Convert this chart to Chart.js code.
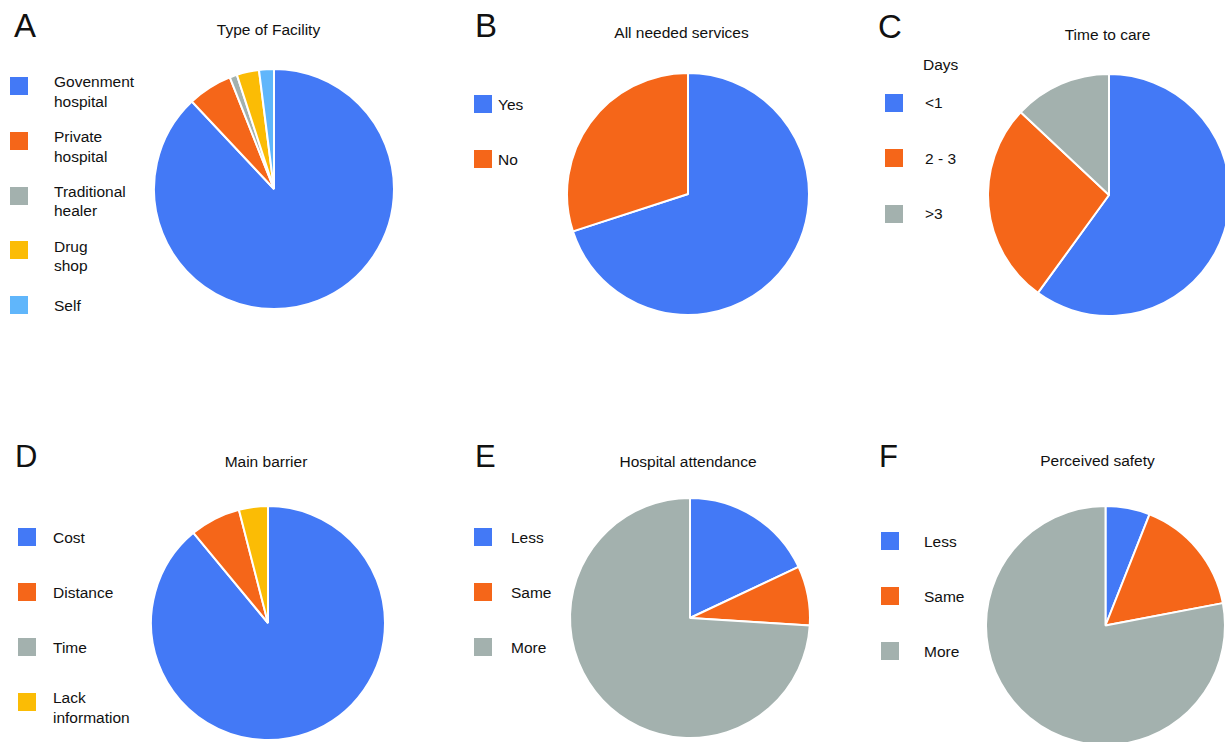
<!DOCTYPE html>
<html lang="en">
  <head>
    <meta charset="UTF-8" />
    <title>Care seeking pies</title>
    <script src="https://cdn.jsdelivr.net/npm/chart.js"></script>
    <style>
      html, body { margin: 0; padding: 0; background: #fff; }
      body {
        width: 1225px; height: 742px; overflow: hidden; position: relative;
        font-family: "Liberation Sans", Arial, Helvetica, sans-serif; color: #111;
      }
      .txt { position: absolute; white-space: nowrap; line-height: 1; }
      .box { position: absolute; width: 18px; height: 18px; }
      .pie { position: absolute; }
    </style>
  </head>
  <body>
    <script>
      // ---- data ----
      const facilityLabels = ['Govenment\nhospital', 'Private\nhospital', 'Traditional\nhealer', 'Drug\nshop', 'Self'];
      const facilityValues = [88, 6, 1, 3, 2];

      const servicesLabels = ['Yes', 'No'];
      const servicesValues = [70, 30];

      const timeLabels = ['<1', '2 - 3', '>3'];
      const timeValues = [60, 27, 13];

      const barrierLabels = ['Cost', 'Distance', 'Time', 'Lack\ninformation'];
      const barrierValues = [89, 7, 0, 4];

      const attendanceLabels = ['Less', 'Same', 'More'];
      const attendanceValues = [18, 8, 74];

      const safetyLabels = ['Less', 'Same', 'More'];
      const safetyValues = [6, 16, 78];

      const blue = '#4379f6', orange = '#f56619', grey = '#a3b1ae', yellow = '#fbbc05', sky = '#60b6fb';

      // ---- panel layout ----
      const panels = [
        { letter: 'A', lx: 14, lb: 37.3, title: 'Type of Facility', tx: 268.5, tb: 35,
          labels: facilityLabels, values: facilityValues, colors: [blue, orange, grey, yellow, sky],
          cx: 274, cy: 188.5, r: 120, sqX: 10, textX: 54, top: 77, step: 54.8 },
        { letter: 'B', lx: 475, lb: 37.3, title: 'All needed services', tx: 681.5, tb: 37.7,
          labels: servicesLabels, values: servicesValues, colors: [blue, orange],
          cx: 688, cy: 194, r: 121, sqX: 474, textX: 498, top: 95, step: 55 },
        { letter: 'C', lx: 878, lb: 37.5, title: 'Time to care', tx: 1107.5, tb: 40,
          labels: timeLabels, values: timeValues, colors: [blue, orange, grey],
          cx: 1109, cy: 195, r: 121, sqX: 885, textX: 925, top: 93.5, step: 55.5,
          extra: { text: 'Days', x: 923, b: 70 } },
        { letter: 'D', lx: 15, lb: 467, title: 'Main barrier', tx: 266, tb: 466.7,
          labels: barrierLabels, values: barrierValues, colors: [blue, orange, grey, yellow],
          cx: 268, cy: 623, r: 117, sqX: 18, textX: 53, top: 528, step: 55 },
        { letter: 'E', lx: 475, lb: 467, title: 'Hospital attendance', tx: 688, tb: 466.7,
          labels: attendanceLabels, values: attendanceValues, colors: [blue, orange, grey],
          cx: 690, cy: 618, r: 120, sqX: 474, textX: 511, top: 528.3, step: 55 },
        { letter: 'F', lx: 879, lb: 467, title: 'Perceived safety', tx: 1097.5, tb: 466,
          labels: safetyLabels, values: safetyValues, colors: [blue, orange, grey],
          cx: 1105, cy: 625.5, r: 119.5, sqX: 881, textX: 924, top: 532, step: 55 }
      ];

      function text(str, x, baseline, size, center) {
        const d = document.createElement('div');
        d.className = 'txt';
        d.textContent = str;
        d.style.fontSize = size + 'px';
        d.style.top = (baseline - 0.8465 * size) + 'px';
        d.style.left = x + 'px';
        if (center) d.style.transform = 'translateX(-50%)';
        document.body.appendChild(d);
      }

      panels.forEach(p => {
        text(p.letter, p.lx, p.lb, p.lb > 100 ? 31 : 33, false);
        text(p.title, p.tx, p.tb, 15.5, true);
        if (p.extra) text(p.extra.text, p.extra.x, p.extra.b, 15.5, false);

        // legend
        p.labels.forEach((lab, i) => {
          const y = p.top + i * p.step;
          const b = document.createElement('div');
          b.className = 'box';
          b.style.left = p.sqX + 'px';
          b.style.top = y + 'px';
          b.style.background = p.colors[i];
          document.body.appendChild(b);
          const lines = lab.split('\n');
          if (lines.length > 1) {
            lines.forEach((ln, k) => text(ln, p.textX, y + 10.5 + k * 19.5, 15.5, false));
          } else {
            text(lab, p.textX, y + 15, 15.5, false);
          }
        });

        // pie
        const pad = 4;
        const size = Math.ceil(2 * (p.r + pad));
        const wrap = document.createElement('div');
        wrap.className = 'pie';
        wrap.style.left = (p.cx - size / 2) + 'px';
        wrap.style.top = (p.cy - size / 2) + 'px';
        const cv = document.createElement('canvas');
        cv.width = size;
        cv.height = size;
        cv.style.width = size + 'px';
        cv.style.height = size + 'px';
        wrap.appendChild(cv);
        document.body.appendChild(wrap);

        new Chart(cv.getContext('2d'), {
          type: 'pie',
          data: {
            labels: p.labels,
            datasets: [{
              data: p.values,
              backgroundColor: p.colors,
              borderColor: '#fff',
              borderWidth: 2
            }]
          },
          options: {
            responsive: false,
            animation: false,
            radius: p.r,
            layout: { padding: 0 },
            plugins: { legend: { display: false }, tooltip: { enabled: false } }
          }
        });
      });
    </script>
  </body>
</html>
